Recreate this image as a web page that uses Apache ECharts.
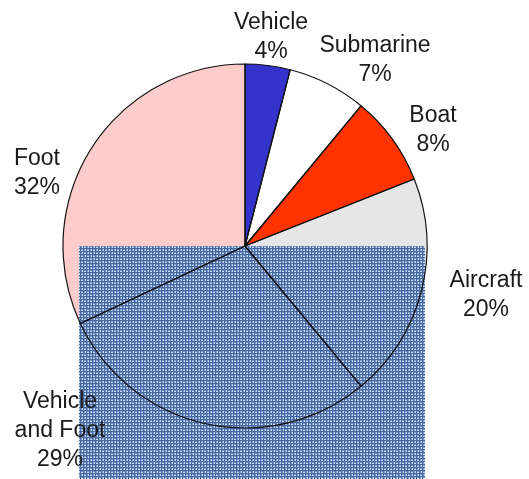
<!DOCTYPE html>
<html>
<head>
<meta charset="utf-8">
<script src="https://cdn.jsdelivr.net/npm/echarts@6/dist/echarts.min.js"></script>
<style>
  html, body { margin: 0; padding: 0; background: #fff; }
  #chart { width: 529px; height: 479px; }
</style>
</head>
<body>
<div id="chart"></div>
<script>
// slices, clockwise from 12 o'clock
const categories = ['Vehicle', 'Submarine', 'Boat', 'Aircraft', 'Vehicle\nand Foot', 'Foot']
const shares = [4, 7, 8, 20, 29, 32]
const sliceColors = ['#3333cc', '#ffffff', '#ff3300', '#e6e6e6', '#5b7fc0', '#ffcccc']

// where each label block sits (centre)
const labelPos = [[271, 37], [375, 60], [433, 130], [486, 295], [60, 431], [37, 173]]

// basket-weave blue texture tile
const makeTexture = () => {
  const cell = 3, n = 4
  const c = document.createElement('canvas')
  c.width = c.height = cell * n
  const ctx = c.getContext('2d')
  ctx.fillStyle = '#44689f'
  ctx.fillRect(0, 0, c.width, c.height)
  for (let by = 0; by < n; by++) {
    for (let bx = 0; bx < n; bx++) {
      const x = bx * cell, y = by * cell
      ctx.fillStyle = '#7897d0'
      ctx.fillRect(x, y, cell - 1, cell - 1)
      ctx.fillStyle = '#cbdaf3'
      if ((bx + by) % 2 === 0) ctx.fillRect(x, y + 1, cell - 1, 1)
      else ctx.fillRect(x + 1, y, 1, cell - 1)
    }
  }
  return c
}

const texture = makeTexture()
const chart = echarts.init(document.getElementById('chart'))

const pieData = categories.map((name, i) => ({name, value: shares[i]}))
const font = {fontFamily: 'Liberation Sans, Arial, sans-serif', fontSize: 23, color: '#1a1a1a', lineHeight: 29}

chart.setOption({
  animation: false,
  graphic: {
    elements: [{
      type: 'rect',
      z: 5,
      shape: {x: 79, y: 246, width: 346, height: 240},
      style: {fill: {image: texture, repeat: 'repeat'}}
    }]
  },
  series: [
    {
      type: 'pie',
      z: 2,
      center: [245, 246],
      radius: 182,
      startAngle: 90,
      clockwise: true,
      silent: true,
      label: {show: false},
      labelLine: {show: false},
      data: pieData.map((d, i) => ({...d, itemStyle: {color: sliceColors[i]}}))
    },
    {
      type: 'pie',
      z: 10,
      center: [245, 246],
      radius: 182,
      startAngle: 90,
      clockwise: true,
      silent: true,
      itemStyle: {color: 'rgba(0,0,0,0)', borderColor: '#111', borderWidth: 1.2},
      label: {
        show: true,
        position: 'inside',
        overflow: 'none',
        formatter: p => p.name + '\n' + p.value + '%',
        align: 'center',
        ...font
      },
      labelLine: {show: false},
      labelLayout: params => ({
        x: labelPos[params.dataIndex][0],
        y: labelPos[params.dataIndex][1],
        align: 'center',
        verticalAlign: 'middle'
      }),
      data: pieData
    }
  ]
})
</script>
</body>
</html>
